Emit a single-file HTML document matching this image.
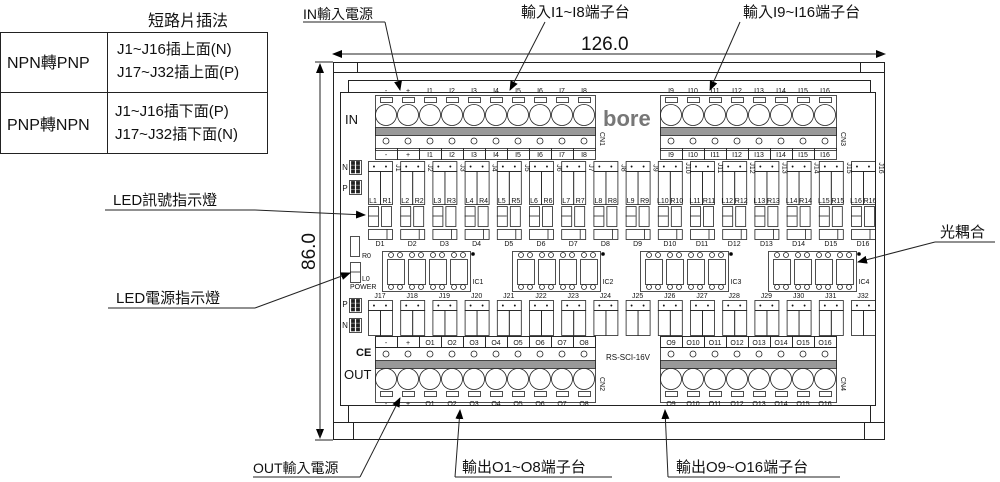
<!DOCTYPE html>
<html><head><meta charset="utf-8"><style>
body{margin:0;background:#fff;width:1000px;height:482px;overflow:hidden}
svg{display:block}
text{font-family:"Liberation Sans","Noto Sans CJK TC",sans-serif;fill:#111}
</style></head><body>
<svg id="s" width="1000" height="482" viewBox="0 0 1000 482" xmlns="http://www.w3.org/2000/svg">
<defs><marker id="ar" markerWidth="10" markerHeight="8" refX="9" refY="4" orient="auto" markerUnits="userSpaceOnUse"><path d="M0,0 L10,4 L0,8 z" fill="#000"/></marker></defs>
<g fill="none" stroke="#222" stroke-width="1">
<rect x="0.5" y="32.5" width="267" height="121"/>
<line x1="0" y1="92.5" x2="268" y2="92.5"/>
<line x1="107.5" y1="32" x2="107.5" y2="153"/>
<line x1="333" y1="54" x2="885" y2="54" marker-end="url(#ar)"/>
<line x1="885" y1="54" x2="333" y2="54" marker-end="url(#ar)"/>
<line x1="320" y1="64" x2="320" y2="438" marker-end="url(#ar)"/>
<line x1="320" y1="438" x2="320" y2="64" marker-end="url(#ar)"/>
<line x1="315" y1="62" x2="333" y2="62"/>
<line x1="315" y1="440" x2="333" y2="440"/>
<rect x="333.5" y="62.5" width="551" height="377"/>
<rect x="333.5" y="62.5" width="24" height="10"/>
<rect x="860.5" y="62.5" width="24" height="10"/>
<rect x="333.5" y="422.5" width="20" height="17"/>
<rect x="864.5" y="422.5" width="20" height="17"/>
<line x1="357" y1="72.5" x2="861" y2="72.5"/>
<line x1="353" y1="422.5" x2="865" y2="422.5"/>
<rect x="348.5" y="80.5" width="522" height="342"/>
<rect x="340.5" y="92.5" width="535" height="313" fill="#fff"/>
</g>
<g id="g" fill="none" stroke="#222" stroke-width="0.8"></g>
<g id="tx" font-size="8"></g>
<text x="148" y="26" font-size="16">短路片插法</text>
<text x="7" y="68" font-size="16">NPN轉PNP</text>
<text x="7" y="130" font-size="16">PNP轉NPN</text>
<text x="117" y="54" font-size="15">J1~J16插上面(N)</text>
<text x="117" y="77" font-size="15">J17~J32插上面(P)</text>
<text x="115" y="116" font-size="15">J1~J16插下面(P)</text>
<text x="115" y="139" font-size="15">J17~J32插下面(N)</text>
<text x="581" y="50" font-size="19">126.0</text>
<text x="0" y="0" font-size="19" transform="translate(315,270) rotate(-90)">86.0</text>
<text x="303" y="19" font-size="14">IN輸入電源</text>
<text x="521" y="17" font-size="15">輸入I1~I8端子台</text>
<text x="743" y="17" font-size="15">輸入I9~I16端子台</text>
<text x="113" y="205" font-size="15">LED訊號指示燈</text>
<text x="116" y="303" font-size="15">LED電源指示燈</text>
<text x="940" y="237" font-size="15">光耦合</text>
<text x="253" y="473" font-size="14">OUT輸入電源</text>
<text x="462" y="472" font-size="15">輸出O1~O8端子台</text>
<text x="676" y="472" font-size="15">輸出O9~O16端子台</text>
<text x="345" y="124" font-size="13">IN</text>
<text x="344" y="379" font-size="13">OUT</text>
<text x="603" y="126" font-size="22" font-weight="bold" style="fill:#777">bore</text>
<text x="606" y="360" font-size="8">RS-SCI-16V</text>
<text x="356" y="356" font-size="11" font-weight="bold">CE</text>
<g fill="none" stroke="#222" stroke-width="1">
<line x1="303" y1="22" x2="385" y2="22"/><line x1="385" y1="22" x2="400" y2="90" marker-end="url(#ar)"/>
<line x1="545" y1="22" x2="510" y2="90" marker-end="url(#ar)"/>
<line x1="740" y1="22" x2="710" y2="90" marker-end="url(#ar)"/>
<line x1="105" y1="210" x2="255" y2="210"/><line x1="255" y1="210" x2="365" y2="215" marker-end="url(#ar)"/>
<line x1="108" y1="308" x2="255" y2="308"/><line x1="255" y1="308" x2="350" y2="273" marker-end="url(#ar)"/>
<line x1="935" y1="242" x2="995" y2="242"/><line x1="935" y1="242" x2="858" y2="262" marker-end="url(#ar)"/>
<line x1="253" y1="477" x2="360" y2="477"/><line x1="360" y1="477" x2="400" y2="398" marker-end="url(#ar)"/>
<line x1="455" y1="477" x2="612" y2="477"/><line x1="455" y1="477" x2="460" y2="410" marker-end="url(#ar)"/>
<line x1="668" y1="477" x2="840" y2="477"/><line x1="668" y1="477" x2="665" y2="410" marker-end="url(#ar)"/>
</g>
</svg>
<script>
var g=document.getElementById('g'),T=document.getElementById('tx'),NS='http://www.w3.org/2000/svg';
function el(n,a,p){var e=document.createElementNS(NS,n);for(var k in a)e.setAttribute(k,a[k]);(p||g).appendChild(e);return e}
function R(x,y,w,h,f){el('rect',{x:x+.5,y:y+.5,width:w,height:h,fill:f||'none'})}
function L(a,b,c,d){el('line',{x1:a,y1:b,x2:c,y2:d})}
function C(x,y,r){el('circle',{cx:x,cy:y,r:r})}
function t(x,y,s,sz,anc){var e=el('text',{x:x,y:y,'font-size':sz||8,'text-anchor':anc||'middle'},T);e.textContent=s;return e}
function tv(x,y,s,sz){var e=el('text',{x:0,y:0,'font-size':sz||7,'text-anchor':'middle',transform:'translate('+x+','+y+') rotate(90)'},T);e.textContent=s}
function conn(x0,y,n,labs,top,name){
 var w=n*22;
 if(top){
  R(x0,y,w,55);
  for(var i=0;i<n;i++){var cx=x0+11+22*i;C(cx,y+20,10.5);R(cx-6,y+2,12,5);C(cx,y+46,3);t(cx,y-2,labs[i],7);
   R(x0+22*i,y+53,22,11);t(cx,y+62,labs[i],7);}
  R(x0,y+32,w,8,'#999');
  tv(x0+w+5,y+44,name);
 }else{
  R(x0,y,w,11);
  for(var i=0;i<n;i++){var cx=x0+11+22*i;t(cx,y+9,labs[i],7);R(x0+22*i,y,22,11);C(cx,y+18,3);C(cx,y+43,10.5);R(cx-6,y+55,12,5);t(cx,y+70,labs[i],7);}
  R(x0,y+11,w,55);R(x0,y+24,w,8,'#999');
  tv(x0+w+5,y+48,name);
 }
}
var a=['-','+'];for(var i=1;i<=8;i++)a.push('I'+i);
conn(375,95,10,a,1,'CN1');
var b=[];for(var i=9;i<=16;i++)b.push('I'+i);
conn(660,95,8,b,1,'CN3');
var c=['-','+'];for(var i=1;i<=8;i++)c.push('O'+i);
conn(375,336,10,c,0,'CN2');
var d=[];for(var i=9;i<=16;i++)d.push('O'+i);
conn(660,336,8,d,0,'CN4');
for(var i=0;i<16;i++){
 var x=368+32.2*i;
 R(x,161,24,10);R(x,171,12,33);R(x+12,171,12,33);t(x+6,169,'•',7);t(x+18,169,'•',7);
 tv(x+28,168,'J'+(i+1),7);
 t(x+5,203,'L'+(i+1),7);t(x+19,203,'R'+(i+1),7);
 R(x,206,10,20);L(x,216,x+10,216);R(x+13,206,10,20);
 R(x,229,24,10);L(x+19,229,x+19,239);t(x+12,246,'D'+(i+1),7);
 var y=300;
 R(x,y,24,10);R(x,y+10,12,25);R(x+12,y+10,12,25);t(x+6,y+8,'•',7);t(x+18,y+8,'•',7);
 t(x+12,y-2,'J'+(17+i),7);
}
[382,512,640,768].forEach(function(x,k){
 R(x,251,88,40);
 for(var j=0;j<4;j++){var xx=x+5+21*j;R(xx,259,17,25);for(var q=0;q<2;q++){C(xx+4+9*q,255,2.5);C(xx+4+9*q,287,2.5);}}
 el('circle',{cx:x+91,cy:254,r:1.5,fill:'#000'});
 t(x+96,284,'IC'+(k+1),7);
});
R(350,236,9,20);t(362,258,'R0',7,'start');R(350,262,10,20);L(350,272,360,272);t(362,281,'L0',7,'start');t(350,289,'POWER',7,'start');
function pins(x,y){R(x,y,12,14,'#fff');for(var i=0;i<2;i++)for(var j=0;j<3;j++)R(x+2+5*i,y+1+4.2*j,3,3,'#222');}
pins(349,160);pins(349,180);t(345,170,'N',8);t(345,191,'P',8);
pins(349,298);pins(349,318);t(345,307,'P',8);t(345,328,'N',8);
</script>
</body></html>
